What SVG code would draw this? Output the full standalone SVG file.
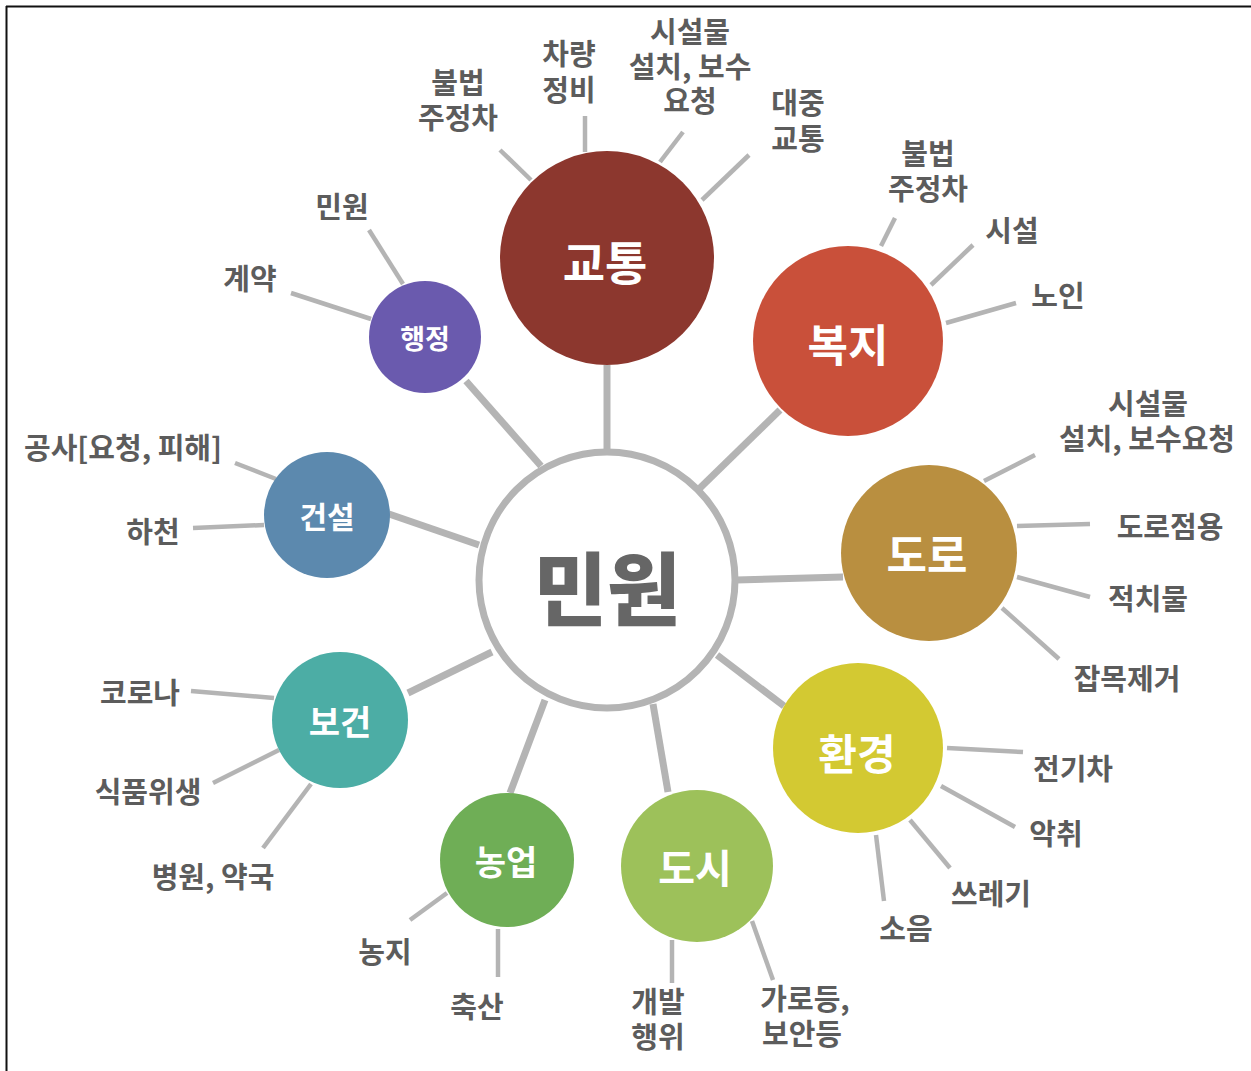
<svg xmlns="http://www.w3.org/2000/svg" width="1251" height="1071" viewBox="0 0 1251 1071">
<style>
.spoke{stroke:#b4b4b4;stroke-width:7;stroke-linecap:butt;fill:none}
.leaf{stroke:#b4b4b4;stroke-width:4.5;stroke-linecap:butt;fill:none}
.lbl{font-family:"Noto Sans CJK KR","Noto Sans",sans-serif;font-weight:700;font-size:29px;fill:#5c5c5c;text-anchor:middle}
.nt{font-family:"Noto Sans CJK KR","Noto Sans",sans-serif;font-weight:700;fill:#ffffff;text-anchor:middle;dominant-baseline:central}
</style>
<rect x="0" y="0" width="1251" height="1071" fill="#ffffff"/>
<line x1="6" y1="6.5" x2="1251" y2="6.5" stroke="#111" stroke-width="2"/>
<line x1="6.5" y1="6" x2="6.5" y2="1071" stroke="#111" stroke-width="2"/>
<g id="connectors">
<line class="spoke" x1="607" y1="365" x2="607" y2="449"/>
<line class="spoke" x1="700" y1="488" x2="780" y2="410"/>
<line class="spoke" x1="736" y1="580" x2="843" y2="577"/>
<line class="spoke" x1="717" y1="655" x2="784" y2="706"/>
<line class="spoke" x1="653" y1="704" x2="668" y2="792"/>
<line class="spoke" x1="545" y1="700" x2="510" y2="793"/>
<line class="spoke" x1="492" y1="652" x2="408" y2="693"/>
<line class="spoke" x1="479" y1="545" x2="389" y2="514"/>
<line class="spoke" x1="541" y1="466" x2="466" y2="381"/>
<line class="leaf" x1="500" y1="150" x2="531" y2="180"/>
<line class="leaf" x1="585" y1="116" x2="585" y2="152"/>
<line class="leaf" x1="683" y1="132" x2="660" y2="162"/>
<line class="leaf" x1="749" y1="155" x2="702" y2="200"/>
<line class="leaf" x1="895" y1="218" x2="881" y2="246"/>
<line class="leaf" x1="973" y1="245" x2="931" y2="285"/>
<line class="leaf" x1="1016" y1="303" x2="946" y2="323"/>
<line class="leaf" x1="1035" y1="455" x2="984" y2="481"/>
<line class="leaf" x1="1090" y1="524" x2="1017" y2="526"/>
<line class="leaf" x1="1017" y1="577" x2="1090" y2="597"/>
<line class="leaf" x1="1002" y1="608" x2="1059" y2="659"/>
<line class="leaf" x1="947" y1="748" x2="1023" y2="752"/>
<line class="leaf" x1="941" y1="786" x2="1015" y2="827"/>
<line class="leaf" x1="910" y1="820" x2="950" y2="868"/>
<line class="leaf" x1="876" y1="835" x2="884" y2="901"/>
<line class="leaf" x1="672" y1="940" x2="672" y2="983"/>
<line class="leaf" x1="752" y1="921" x2="773" y2="980"/>
<line class="leaf" x1="447" y1="893" x2="410" y2="920"/>
<line class="leaf" x1="498" y1="929" x2="498" y2="977"/>
<line class="leaf" x1="191" y1="691" x2="274" y2="698"/>
<line class="leaf" x1="213" y1="783" x2="279" y2="750"/>
<line class="leaf" x1="263" y1="848" x2="311" y2="784"/>
<line class="leaf" x1="235" y1="463" x2="276" y2="479"/>
<line class="leaf" x1="193" y1="528" x2="264" y2="525"/>
<line class="leaf" x1="369" y1="230" x2="403" y2="284"/>
<line class="leaf" x1="291" y1="293" x2="371" y2="319"/>
</g>
<g id="center">
<circle cx="607" cy="580" r="128" fill="#ffffff" stroke="#b4b4b4" stroke-width="7"/>
<text x="607" y="584" font-family="Noto Sans CJK KR, sans-serif" font-weight="900" font-size="80" fill="#666666" text-anchor="middle" dominant-baseline="central">민원</text>
</g>
<g id="node-traffic">
<circle cx="607" cy="258" r="107" fill="#8c372e"/>
<text class="nt" x="605" y="260" font-size="46">교통</text>
<text class="lbl" x="458" y="94">불법</text>
<text class="lbl" x="458" y="129">주정차</text>
<text class="lbl" x="569" y="65">차량</text>
<text class="lbl" x="569" y="101">정비</text>
<text class="lbl" x="690" y="43">시설물</text>
<text class="lbl" x="690" y="78">설치, 보수</text>
<text class="lbl" x="690" y="112">요청</text>
<text class="lbl" x="798" y="114">대중</text>
<text class="lbl" x="798" y="150">교통</text>
</g>
<g id="node-welfare">
<circle cx="848" cy="341" r="95" fill="#c9503a"/>
<text class="nt" x="848" y="343" font-size="44">복지</text>
<text class="lbl" x="928" y="165">불법</text>
<text class="lbl" x="928" y="200">주정차</text>
<text class="lbl" x="1012" y="242">시설</text>
<text class="lbl" x="1058" y="307">노인</text>
</g>
<g id="node-road">
<circle cx="929" cy="553" r="88" fill="#b98f40"/>
<text class="nt" x="927" y="553" font-size="44">도로</text>
<text class="lbl" x="1148" y="415">시설물</text>
<text class="lbl" x="1147" y="450">설치, 보수요청</text>
<text class="lbl" x="1170" y="538">도로점용</text>
<text class="lbl" x="1148" y="610">적치물</text>
<text class="lbl" x="1127" y="690">잡목제거</text>
</g>
<g id="node-env">
<circle cx="858" cy="748" r="85" fill="#d3c932"/>
<text class="nt" x="857" y="751" font-size="42">환경</text>
<text class="lbl" x="1073" y="780">전기차</text>
<text class="lbl" x="1056" y="845">악취</text>
<text class="lbl" x="991" y="905">쓰레기</text>
<text class="lbl" x="906" y="940">소음</text>
</g>
<g id="node-city">
<circle cx="697" cy="866" r="76" fill="#9dc15a"/>
<text class="nt" x="695" y="866" font-size="40">도시</text>
<text class="lbl" x="658" y="1013">개발</text>
<text class="lbl" x="658" y="1048">행위</text>
<text class="lbl" x="805" y="1010">가로등,</text>
<text class="lbl" x="802" y="1045">보안등</text>
</g>
<g id="node-agri">
<circle cx="507" cy="860" r="67" fill="#6fae56"/>
<text class="nt" x="506" y="860" font-size="34">농업</text>
<text class="lbl" x="385" y="963">농지</text>
<text class="lbl" x="477" y="1018">축산</text>
</g>
<g id="node-health">
<circle cx="340" cy="720" r="68" fill="#4cada5"/>
<text class="nt" x="340" y="720" font-size="34">보건</text>
<text class="lbl" x="140" y="704">코로나</text>
<text class="lbl" x="148" y="803">식품위생</text>
<text class="lbl" x="213" y="888">병원, 약국</text>
</g>
<g id="node-const">
<circle cx="327" cy="515" r="63" fill="#5c89ae"/>
<text class="nt" x="327" y="515" font-size="30">건설</text>
<text class="lbl" x="123" y="459">공사[요청, 피해]</text>
<text class="lbl" x="153" y="543">하천</text>
</g>
<g id="node-admin">
<circle cx="425" cy="337" r="56" fill="#6a5aae"/>
<text class="nt" x="425" y="337" font-size="27">행정</text>
<text class="lbl" x="342" y="218">민원</text>
<text class="lbl" x="250" y="290">계약</text>
</g>
</svg>
